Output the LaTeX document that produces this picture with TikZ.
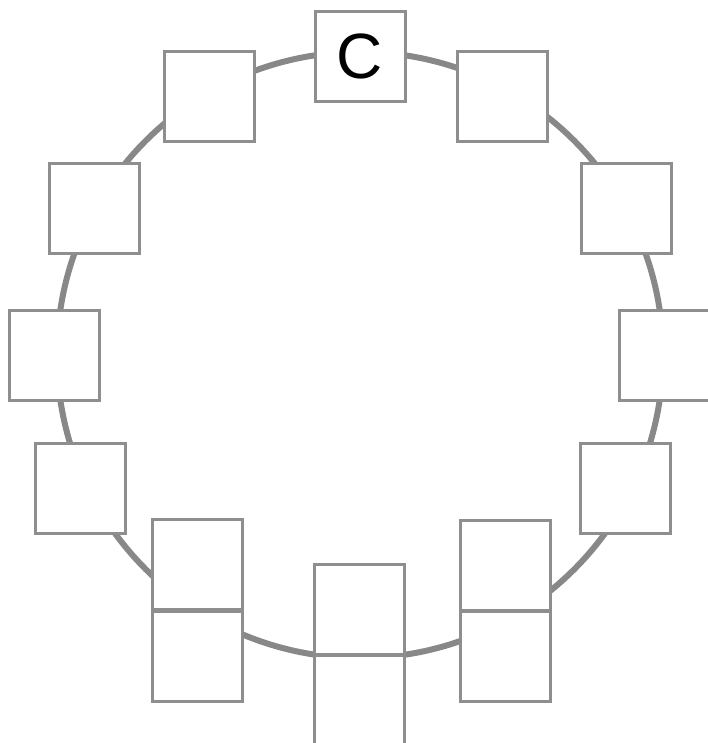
\documentclass[tikz,border=0pt]{standalone}
\usepackage{fontspec}
\setmainfont{Liberation Sans}
\definecolor{ringgray}{RGB}{136,136,136}
\definecolor{boxgray}{RGB}{142,142,142}
\tikzset{
  slot/.style={draw=boxgray,line width=3pt,fill=white,minimum size=90pt,inner sep=0pt},
}
\begin{document}
\begin{tikzpicture}[x=1pt,y=-1pt]
  \useasboundingbox (0,0) rectangle (707,743);
  \draw[ringgray,line width=6pt] (360,355) circle[radius=303];
  \node[slot,font=\fontsize{64}{64}\selectfont] (n12) at (360,56.5) {C};
  \foreach \nm/\x/\y in {n1/502.7/96.3,n2/626.3/208.8,n3/664.5/355.5,n4/625.5/488,
      n5a/505.5/565,n5b/505.5/656,n6a/359.5/609,n6b/359.5/700,
      n7a/197/564.5,n7b/197/656,n8/80.5/488,n9/54/355.5,n10/94.2/208.8,n11/209.7/96.3} {
    \node[slot] (\nm) at (\x,\y) {};
  }
\end{tikzpicture}
\end{document}
